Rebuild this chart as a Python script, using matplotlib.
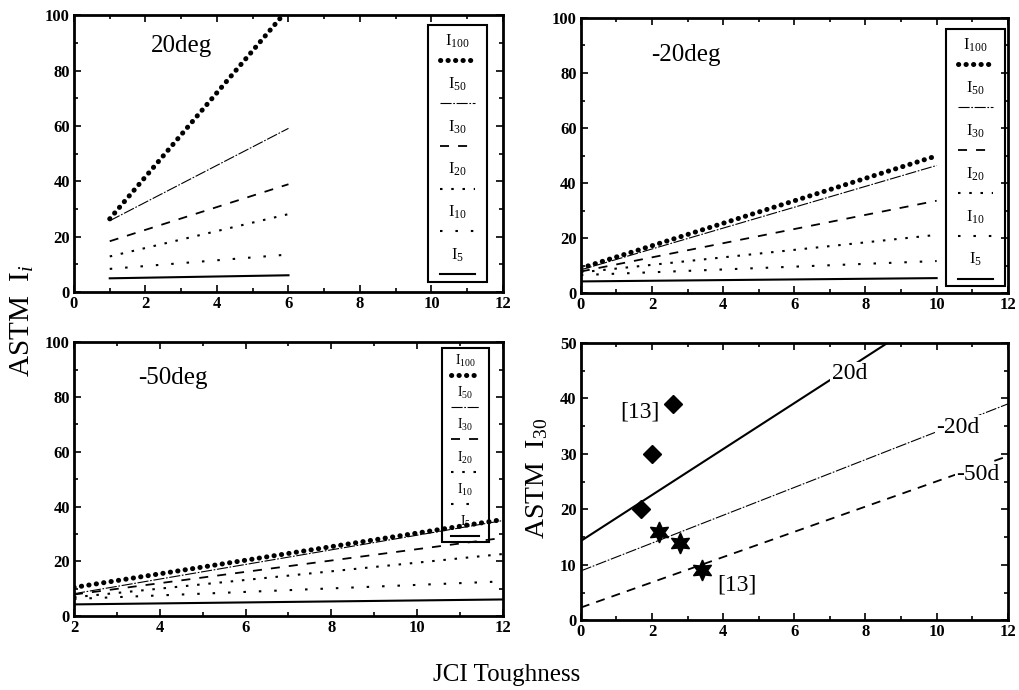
import matplotlib
matplotlib.use("Agg")
import matplotlib.pyplot as plt
from matplotlib.patches import Rectangle
import numpy as np

plt.rcParams['font.family'] = ['Liberation Serif', 'DejaVu Serif']
plt.rcParams['mathtext.fontset'] = 'custom'
plt.rcParams['mathtext.rm'] = 'Liberation Serif'
plt.rcParams['mathtext.it'] = 'Liberation Serif:italic'

# Series names (legend order)
series = ["100", "50", "30", "20", "10", "5"]

# 20 deg panel: lines from x=1 to x=6 (start value, end value)
x_20 = [1, 6]
y_20 = {"100": [26.4, 102.4], "50": [25.7, 59.1], "30": [18.3, 38.9],
        "20": [12.8, 28.1], "10": [8.3, 13.5], "5": [4.9, 6.0]}

# -20 deg panel: x=0 to x=10
x_m20 = [0, 10]
y_m20 = {"100": [9.1, 49.9], "50": [8.5, 46.4], "30": [7.9, 33.6],
         "20": [7.6, 21.2], "10": [6.6, 11.7], "5": [4.3, 5.5]}

# -50 deg panel: x=2 to x=12
x_m50 = [2, 12]
y_m50 = {"100": [10.5, 35.3], "50": [8.2, 34.9], "30": [7.9, 28.6],
         "20": [6.9, 22.7], "10": [6.3, 12.7], "5": [4.3, 6.1]}

# I30 comparison panel
x_i30 = [0, 12]
i30_20d = [14.3, 64.0]
i30_m20d = [8.9, 39.0]
i30_m50d = [2.3, 29.6]
diamond_x = [1.7, 2.0, 2.6]
diamond_y = [20, 30, 39]
star_x = [2.2, 2.8, 3.4]
star_y = [16, 14, 9]

styles = {
    "100": dict(color='k', lw=3.6, ls=(0, (0.05, 1.45)), dash_capstyle='round'),
    "50": dict(color='k', lw=0.8, ls=(0, (10, 1.5, 1.5, 1.5))),
    "30": dict(color='k', lw=1.3, ls=(0, (5, 5))),
    "20": dict(color='k', lw=1.5, ls=(0, (1.2, 4.2))),
    "10": dict(color='k', lw=1.5, ls=(0, (1.2, 6.2))),
    "5": dict(color='k', lw=1.5, ls='-'),
}

fig = plt.figure(figsize=(10.19, 6.9), dpi=100)
ax1 = fig.add_axes([0.0726, 0.577, 0.421, 0.401])
ax2 = fig.add_axes([0.570, 0.575, 0.419, 0.399])
ax3 = fig.add_axes([0.0726, 0.107, 0.421, 0.397])
ax4 = fig.add_axes([0.570, 0.101, 0.419, 0.402])


def style_axes(ax, xlim, ylim, xstep, ystep):
    ax.set_xlim(*xlim)
    ax.set_ylim(*ylim)
    ax.set_xticks(np.arange(xlim[0], xlim[1] + 0.1, xstep))
    ax.set_yticks(np.arange(ylim[0], ylim[1] + 0.1, ystep))
    ax.set_xticks(np.arange(xlim[0], xlim[1] + 0.1, xstep / 2), minor=True)
    ax.set_yticks(np.arange(ylim[0], ylim[1] + 0.1, ystep / 2), minor=True)
    ax.tick_params(which='both', direction='in', top=True, right=True, width=1.2)
    ax.tick_params(which='major', length=5, pad=3)
    ax.tick_params(which='minor', length=3)
    for lab in ax.get_xticklabels() + ax.get_yticklabels():
        lab.set_fontweight('bold')
        lab.set_fontsize(12)
    for sp in ax.spines.values():
        sp.set_linewidth(2.0)


def draw_key(ax, box, fs):
    x0, y0, x1, y1 = box
    ax.add_patch(Rectangle((x0, y0), x1 - x0, y1 - y0, transform=ax.transAxes,
                           fill=False, lw=1.5, color='k', zorder=6,
                           clip_on=False))
    step = (y1 - y0) / len(series)
    xc = (x0 + x1) / 2
    w = (x1 - x0) * 0.3
    for i, s in enumerate(series):
        yt = y1 - step * (i + 0.38)
        yl = y1 - step * (i + 0.82)
        ax.text(xc, yt, r'I$_{' + s + '}$', transform=ax.transAxes,
                ha='center', va='center', fontsize=fs, zorder=7)
        ax.plot([xc - w, xc + w], [yl, yl], transform=ax.transAxes,
                zorder=7, **styles[s])


for ax, xs, ys in [(ax1, x_20, y_20), (ax2, x_m20, y_m20), (ax3, x_m50, y_m50)]:
    for s in series:
        ax.plot(xs, ys[s], **styles[s])

style_axes(ax1, (0, 12), (0, 100), 2, 20)
style_axes(ax2, (0, 12), (0, 100), 2, 20)
style_axes(ax3, (2, 12), (0, 100), 2, 20)
style_axes(ax4, (0, 12), (0, 50), 2, 10)

draw_key(ax1, (0.825, 0.036, 0.963, 0.964), 12)
draw_key(ax2, (0.855, 0.025, 0.993, 0.960), 12)
draw_key(ax3, (0.857, 0.27, 0.967, 0.978), 10)

ax1.text(0.18, 0.89, "20deg", transform=ax1.transAxes, fontsize=18, va='center')
ax2.text(0.165, 0.865, "-20deg", transform=ax2.transAxes, fontsize=18, va='center')
ax3.text(0.15, 0.87, "-50deg", transform=ax3.transAxes, fontsize=18, va='center')

# I30 panel
ax4.plot(x_i30, i30_20d, color='k', lw=1.5, ls='-')
ax4.plot(x_i30, i30_m20d, color='k', lw=0.8, ls=(0, (10, 1.5, 1.5, 1.5)))
ax4.plot(x_i30, i30_m50d, color='k', lw=1.3, ls=(0, (5, 4)))
ax4.plot(diamond_x, diamond_y, ls='none', marker='D', color='k', markersize=9)
ax4.plot(star_x, star_y, ls='none', marker=(6, 1, 0), color='k', markersize=15)

lbl_box = dict(facecolor='white', edgecolor='none', pad=1)
ax4.text(7.55, 44.5, "20d", fontsize=17, ha='center', va='center', bbox=lbl_box)
ax4.text(10.6, 34.8, "-20d", fontsize=17, ha='center', va='center', bbox=lbl_box)
ax4.text(11.15, 26.3, "-50d", fontsize=17, ha='center', va='center', bbox=lbl_box)
ax4.text(1.65, 37.5, "[13]", fontsize=17, ha='center', va='center')
ax4.text(4.4, 6.4, "[13]", fontsize=17, ha='center', va='center')

fig.text(0.022, 0.535, r'ASTM  I$_{i}$', rotation=90, fontsize=21,
         ha='center', va='center')
fig.text(0.527, 0.307, r'ASTM  I$_{30}$', rotation=90, fontsize=20,
         ha='center', va='center')
fig.text(0.497, 0.022, "JCI Toughness", fontsize=18, ha='center', va='center')

fig.savefig("out.png", dpi=100)
